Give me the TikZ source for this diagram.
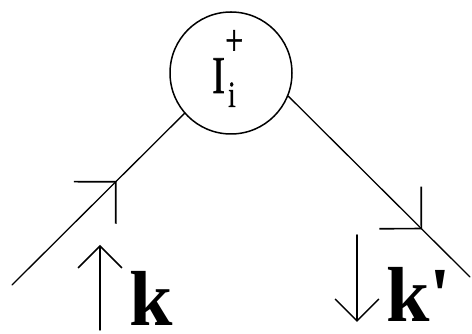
\documentclass[tikz,border=0pt]{standalone}
\usepackage{fontspec}
\setmainfont{Liberation Serif}
\newfontfamily\narrowserif[FakeStretch=0.72,FakeBold=1.2]{Liberation Serif}
\usetikzlibrary{arrows.meta,decorations.markings}
\tikzset{
  leg/.style={line width=1.3pt},
  legmark/.style={postaction={decorate,decoration={markings,
    mark=at position #1 with {\arrow[line width=1.7pt]{Straight Barb[angle=90:42pt]}}}}},
  momentum/.style={line width=1.5pt,-{Straight Barb[angle=90:31pt]}},
  lbl/.style={inner sep=0pt,anchor=base west}
}
\begin{document}
\begin{tikzpicture}[x=1pt,y=1pt,line cap=round]
\useasboundingbox (0,0) rectangle (472,334);
% vertex
\node[circle,draw,line width=1.5pt,minimum size=122pt,inner sep=0pt] (vtx) at (231,261) {};
\node[lbl,font=\narrowserif\fontsize{53}{53}\selectfont] (vtxI) at (212,241) {I};
\node[lbl,font=\narrowserif\fontsize{37}{37}\selectfont] (vtxsub) at (228,227) {i};
\node[lbl,font=\narrowserif\fontsize{44}{44}\selectfont] (vtxsup) at (225,279) {+};
% legs
\coordinate (inend) at (12,49);
\coordinate (outend) at (470,57);
\draw[leg,legmark=0.607] (inend) -- (vtx.221);
\draw[leg,legmark=0.737] (vtx.-22) -- (outend);
% momenta
\coordinate (kfoot) at (100,4);
\coordinate (khead) at (100,89);
\coordinate (kpfoot) at (357,99);
\coordinate (kphead) at (357,12);
\draw[momentum] (kfoot) -- (khead);
\draw[momentum] (kpfoot) -- (kphead);
\node[lbl,font=\bfseries\fontsize{78}{78}\selectfont] (klbl) at (129,8) {k};
\node[lbl,font=\bfseries\fontsize{78}{78}\selectfont] (kplbl) at (386,12) {k\textquotesingle};
\end{tikzpicture}
\end{document}
